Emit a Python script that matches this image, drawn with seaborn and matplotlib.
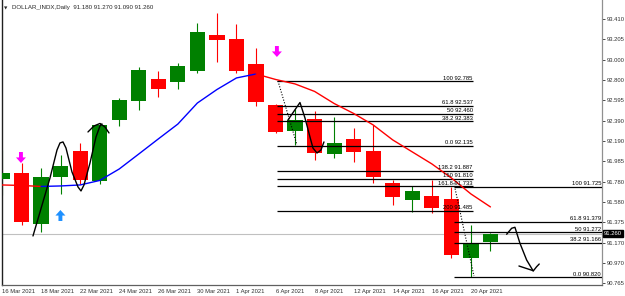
import numpy as np
import pandas as pd
import matplotlib
matplotlib.use("Agg")
import matplotlib.pyplot as plt
import seaborn as sns

# ---------------- data ----------------
dates = ["16 Mar", "17 Mar", "18 Mar", "19 Mar", "22 Mar", "23 Mar", "24 Mar", "25 Mar",
         "26 Mar", "29 Mar", "30 Mar", "31 Mar", "1 Apr", "5 Apr", "6 Apr", "7 Apr",
         "8 Apr", "9 Apr", "12 Apr", "13 Apr", "14 Apr", "15 Apr", "16 Apr", "19 Apr",
         "20 Apr", "21 Apr"]
opens = [91.807, 91.870, 91.353, 91.827, 92.087, 91.787, 92.398, 92.588, 92.809, 92.779,
         92.889, 93.253, 93.210, 92.962, 92.548, 92.290, 92.408, 92.054, 92.208, 92.087,
         91.770, 91.596, 91.636, 91.603, 91.012, 91.180]
highs = [92.097, 91.967, 91.914, 92.047, 92.164, 92.370, 92.617, 92.932, 92.889, 92.972,
         93.367, 93.467, 93.357, 93.116, 92.555, 92.505, 92.488, 92.425, 92.321, 92.348,
         91.797, 91.737, 91.797, 91.730, 91.346, 91.270]
lows = [91.646, 91.346, 91.279, 91.656, 91.757, 91.757, 92.338, 92.498, 92.632, 92.706,
        92.866, 92.982, 92.866, 92.538, 92.265, 92.147, 91.997, 92.014, 91.980, 91.770,
        91.546, 91.479, 91.469, 91.012, 90.820, 91.090]
closes = [91.867, 91.379, 91.830, 91.940, 91.797, 92.348, 92.598, 92.899, 92.706, 92.939,
          93.283, 93.197, 92.889, 92.581, 92.281, 92.398, 92.064, 92.165, 92.074, 91.830,
          91.630, 91.687, 91.513, 91.045, 91.155, 91.260]
ma_values = [91.747, 91.742, 91.732, 91.737, 91.747, 91.792, 91.907, 92.057, 92.208, 92.357,
             92.568, 92.703, 92.819, 92.859, 92.804, 92.759, 92.684, 92.563, 92.463, 92.348,
             92.198, 92.078, 91.958, 91.817, 91.657, 91.527]
ma_rise_start, ma_rise_end = 2, 13

date_ticks = [0, 2, 4, 6, 8, 10, 12, 14, 16, 18, 20, 22, 24]
date_labels = ["16 Mar 2021", "18 Mar 2021", "22 Mar 2021", "24 Mar 2021", "26 Mar 2021",
               "30 Mar 2021", "1 Apr 2021", "6 Apr 2021", "8 Apr 2021", "12 Apr 2021",
               "14 Apr 2021", "16 Apr 2021", "20 Apr 2021"]
price_ticks = [93.410, 93.205, 93.000, 92.800, 92.595, 92.390, 92.190, 91.985, 91.780,
               91.580, 91.375, 91.170, 90.970, 90.765]

fib1_pct = ["100", "61.8", "50", "38.2", "0.0", "138.2", "150", "161.8", "200"]
fib1_levels = [92.785, 92.537, 92.460, 92.383, 92.135, 91.887, 91.810, 91.733, 91.485]
fib1_span = (14.07, 24.1)
fib2_pct = ["100", "61.8", "50", "38.2", "0.0"]
fib2_levels = [91.725, 91.379, 91.272, 91.166, 90.820]
fib2_span = (23.13, 30.71)

bid = 91.260

# hand-drawn strokes (bar index, price)
stroke1_x = [1.586, 2.456, 2.815, 2.968, 3.122, 3.275, 3.582, 3.889, 4.043, 4.197, 4.503, 4.811, 5.015, 5.118]
stroke1_y = [91.236, 91.817, 92.097, 92.168, 92.178, 92.117, 91.877, 91.727, 91.687, 91.747, 91.967, 92.228, 92.338, 92.358]
hat1_x = [4.401, 4.708, 5.015, 5.271, 5.476]
hat1_y = [92.278, 92.338, 92.363, 92.328, 92.268]
stroke2_x = [14.637, 15.251, 15.507, 15.763, 15.916, 16.121, 16.325, 16.479]
stroke2_y = [92.398, 92.573, 92.418, 92.228, 92.117, 92.067, 92.097, 92.178]
stroke3_x = [25.83, 26.085, 26.254, 26.51, 26.853, 27.19, 27.364, 27.497]
stroke3_y = [91.253, 91.313, 91.323, 91.163, 90.995, 90.885, 90.928, 90.955]
head3_x = [26.459, 27.19]
head3_y = [90.935, 90.888]
dot1_x = [14.125, 15.097]
dot1_y = [92.789, 92.148]
dot2_x = [23.13, 24.156]
dot2_y = [91.764, 90.835]

down_arrows_x = [0.97, 14.07]
down_arrows_tip = [91.967, 93.029]
up_arrows_x = [2.99]
up_arrows_tip = [91.496]

title = "DOLLAR_INDX,Daily  91.180 91.270 91.090 91.260"

# ---------------- drawing ----------------
sns.set_style("white")
plt.rcParams['font.family'] = ['Liberation Sans', 'DejaVu Sans']
FS = 4.2

fig = plt.figure(figsize=(6.25, 2.96), dpi=100)
ax = fig.add_axes([2 / 625, 11 / 296, 600 / 625, 285 / 296])
ax.set_xlim(0, 30.71)
ax.set_ylim(90.7447, 93.600)

idx = np.arange(len(dates))
df = pd.DataFrame({"i": idx, "o": opens, "h": highs, "l": lows, "c": closes, "ma": ma_values})
df["up"] = df["c"] >= df["o"]
df["col"] = np.where(df["up"], "#008000", "#FF0000")

# wicks
ax.vlines(df["i"], df["l"], df["h"], colors=df["col"], lw=0.8, zorder=2)
# bodies
body_lo = np.minimum(df["o"], df["c"])
body_h = np.maximum(np.abs(df["c"] - df["o"]), 0.004)
ax.bar(df["i"], body_h, bottom=body_lo, width=0.78, color=df["col"], edgecolor="none", zorder=3)

# bid line
ax.axhline(bid, color="#C0C0C0", lw=0.8, zorder=1)

# moving average, coloured by direction
seg_a = df.iloc[:ma_rise_start + 1]
seg_b = df.iloc[ma_rise_start:ma_rise_end + 1]
seg_c = df.iloc[ma_rise_end:]
sns.lineplot(data=seg_a, x="i", y="ma", color="#FF0000", lw=1.0, ax=ax, zorder=5)
sns.lineplot(data=seg_b, x="i", y="ma", color="#0000FF", lw=1.0, ax=ax, zorder=5)
sns.lineplot(data=seg_c, x="i", y="ma", color="#FF0000", lw=1.0, ax=ax, zorder=5)

# fibonacci sets
for pct, lev in zip(fib1_pct, fib1_levels):
    ax.hlines(lev, fib1_span[0], fib1_span[1], color="black", lw=0.9, zorder=4)
    ax.text(fib1_span[1], lev + 0.008, f"{pct} {lev:.3f}", ha="right", va="bottom",
            fontsize=FS, color="black", zorder=6)
for pct, lev in zip(fib2_pct, fib2_levels):
    ax.hlines(lev, fib2_span[0], fib2_span[1], color="black", lw=0.9, zorder=4)
    ax.text(fib2_span[1] - 0.05, lev + 0.008, f"{pct} {lev:.3f}", ha="right", va="bottom",
            fontsize=FS, color="black", zorder=6)

# strokes
for xs, ys in [(stroke1_x, stroke1_y), (hat1_x, hat1_y), (stroke2_x, stroke2_y),
               (stroke3_x, stroke3_y), (head3_x, head3_y)]:
    ax.plot(xs, ys, color="black", lw=1.0, zorder=7, solid_capstyle="round")
for xs, ys in [(dot1_x, dot1_y), (dot2_x, dot2_y)]:
    ax.plot(xs, ys, color="black", lw=0.8, ls=(0, (1, 1.5)), zorder=7)

# signal arrows
for x, tip in zip(down_arrows_x, down_arrows_tip):
    ax.annotate("", xy=(x, tip), xytext=(x, tip + 0.11),
                arrowprops=dict(arrowstyle="simple,head_length=0.5,head_width=0.9,tail_width=0.35",
                                color="#FF00FF", lw=0, shrinkA=0, shrinkB=0, mutation_scale=8), zorder=8)
for x, tip in zip(up_arrows_x, up_arrows_tip):
    ax.annotate("", xy=(x, tip), xytext=(x, tip - 0.11),
                arrowprops=dict(arrowstyle="simple,head_length=0.5,head_width=0.9,tail_width=0.35",
                                color="#1E90FF", lw=0, shrinkA=0, shrinkB=0, mutation_scale=8), zorder=8)

# axes styling
ax.spines["top"].set_visible(False)
ax.spines["left"].set_color("#202020")
ax.spines["left"].set_linewidth(1.0)
ax.spines["bottom"].set_color("#606060")
ax.spines["bottom"].set_linewidth(0.9)
ax.spines["right"].set_color("#909090")
ax.spines["right"].set_linewidth(0.9)

ax.yaxis.tick_right()
ax.set_yticks(price_ticks)
ax.set_yticklabels([f"{v:.3f}" for v in price_ticks])
ax.tick_params(axis="y", length=2.5, width=0.6, pad=1, labelsize=FS, colors="#303030")
ax.set_xticks(date_ticks)
ax.set_xticklabels(date_labels, ha="left")
ax.tick_params(axis="x", length=2.5, width=0.6, pad=0.5, labelsize=FS, colors="#303030")
ax.set_xlabel("")
ax.set_ylabel("")

# current price box
ax.text(1.003, bid, f"{bid:.3f}", transform=ax.get_yaxis_transform(), ha="left", va="center",
        fontsize=FS, color="white", zorder=10, clip_on=False,
        bbox=dict(boxstyle="square,pad=0.15", fc="black", ec="black"))

# title
fig.text(4 / 625, 1 - 8 / 296, "\u25BC", fontsize=3.2, va="center", ha="left",
         family=["DejaVu Sans"])
fig.text(12 / 625, 1 - 8 / 296, title, fontsize=FS + 0.2, va="center", ha="left")

fig.savefig("out.png", dpi=100)
